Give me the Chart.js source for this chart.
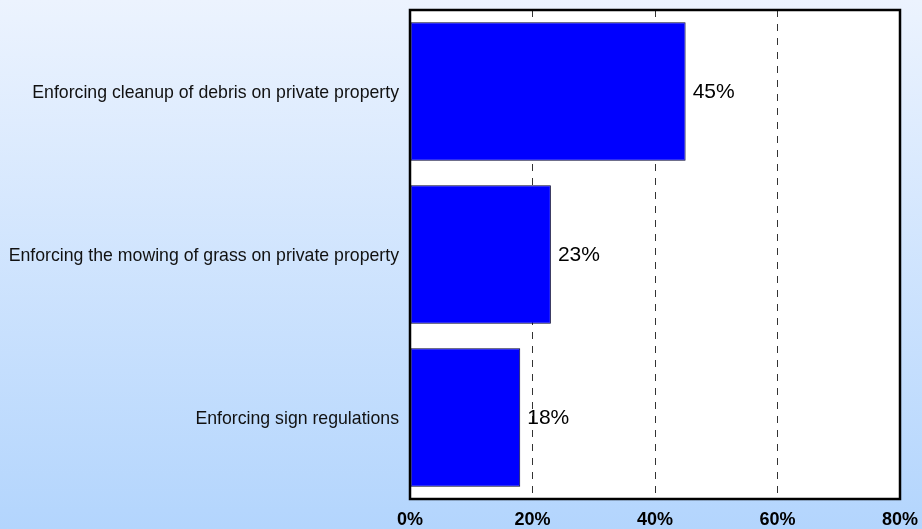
<!DOCTYPE html>
<html>
<head>
<meta charset="utf-8">
<script src="https://cdn.jsdelivr.net/npm/chart.js@4.4.1/dist/chart.umd.min.js"></script>
<style>
  html, body { margin: 0; padding: 0; }
  #wrap { width: 922px; height: 529px; }
</style>
</head>
<body>
<div id="wrap"><canvas id="chart" width="922" height="529"></canvas></div>
<script>
// Categorias e percentuais
const categories = [
  'Enforcing cleanup of debris on private property',
  'Enforcing the mowing of grass on private property',
  'Enforcing sign regulations'
];
const values = [45, 23, 18];
const xTicks = [0, 20, 40, 60, 80];

const FONT = "'Liberation Sans', Arial, sans-serif";

// Fundo em degradê + área do gráfico branca com borda preta
const framePlugin = {
  id: 'frame',
  beforeDraw(chart) {
    const { ctx, chartArea: a, height, width } = chart;
    const g = ctx.createLinearGradient(0, 0, 0, height);
    g.addColorStop(0, '#ecf3fe');
    g.addColorStop(1, '#b3d5fd');
    ctx.save();
    ctx.fillStyle = g;
    ctx.fillRect(0, 0, width, height);
    ctx.fillStyle = '#ffffff';
    ctx.fillRect(a.left, a.top, a.right - a.left, a.bottom - a.top);
    ctx.restore();
  },
  afterDraw(chart) {
    const { ctx, chartArea: a } = chart;
    ctx.save();
    ctx.strokeStyle = '#000';
    ctx.lineWidth = 2.5;
    ctx.strokeRect(a.left, a.top, a.right - a.left, a.bottom - a.top);
    ctx.restore();
  }
};

// Rótulos de valor ao lado de cada barra
const valueLabels = {
  id: 'valueLabels',
  afterDatasetsDraw(chart) {
    const { ctx } = chart;
    const meta = chart.getDatasetMeta(0);
    ctx.save();
    ctx.font = '21px ' + FONT;
    ctx.fillStyle = '#000';
    ctx.textAlign = 'left';
    ctx.textBaseline = 'middle';
    meta.data.forEach((bar, i) => {
      ctx.fillText(values[i] + '%', bar.x + 7, bar.y + 1);
    });
    ctx.restore();
  }
};

new Chart(document.getElementById('chart'), {
  type: 'bar',
  data: {
    labels: categories,
    datasets: [{
      data: values,
      backgroundColor: '#0000ff',
      borderColor: '#000033',
      borderWidth: 1,
      borderSkipped: false,
      barPercentage: 0.85,
      categoryPercentage: 1
    }]
  },
  options: {
    indexAxis: 'y',
    responsive: false,
    animation: false,
    layout: { padding: { top: 10, right: 22, left: 0, bottom: 0 } },
    plugins: {
      legend: { display: false },
      tooltip: { enabled: false }
    },
    scales: {
      x: {
        min: xTicks[0],
        max: xTicks[xTicks.length - 1],
        afterBuildTicks(axis) {
          axis.ticks = xTicks.map(v => ({ value: v }));
        },
        afterFit(scale) {
          scale.height = 30;
          scale.paddingLeft = 0;
          scale.paddingRight = 0;
        },
        // linhas de grade tracejadas
        border: { display: false, dash: [7, 7] },
        grid: {
          drawTicks: false,
          lineWidth: 1,
          color: c => (c.tick && (c.tick.value === 0 || c.tick.value === 80)) ? 'rgba(0,0,0,0)' : '#333333'
        },
        ticks: {
          padding: 10,
          color: '#000',
          font: { family: FONT, size: 18, weight: 'bold' },
          callback: v => v + '%'
        }
      },
      y: {
        afterFit(scale) {
          scale.width = 410;
          scale.paddingTop = 0;
          scale.paddingBottom = 0;
        },
        border: { display: false },
        grid: { display: false, drawTicks: false },
        ticks: {
          padding: 11,
          labelOffset: 2,
          color: '#111',
          font: { family: FONT, size: 17.7 }
        }
      }
    }
  },
  plugins: [framePlugin, valueLabels]
});
</script>
</body>
</html>
